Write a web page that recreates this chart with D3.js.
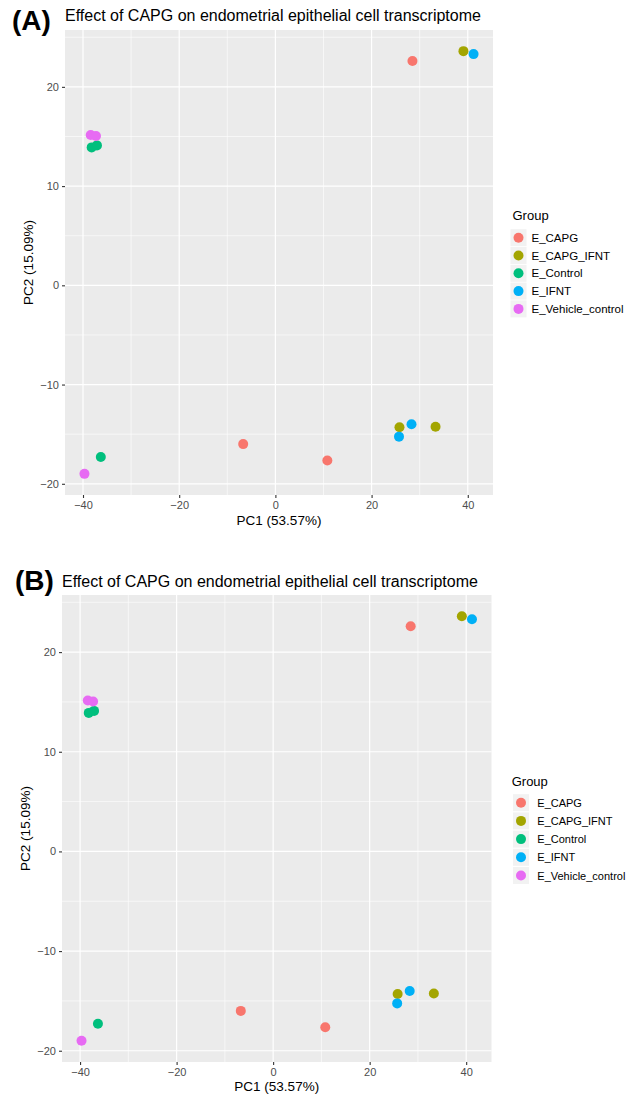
<!DOCTYPE html>
<html><head><meta charset="utf-8">
<script src="https://cdn.jsdelivr.net/npm/d3@7"></script>
<style>body{margin:0;background:#fff}svg{display:block}text{font-family:"Liberation Sans",Arial,sans-serif}</style>
</head><body>
<svg id="c" width="634" height="1097"></svg>
<script>
const groups = ["E_CAPG","E_CAPG_IFNT","E_Control","E_IFNT","E_Vehicle_control"];
const colors = ["#F8766D","#A3A500","#00BF7D","#00B0F6","#E76BF3"];
const pc1 = {
  E_CAPG: [28.5, -6.7, 10.8],
  E_CAPG_IFNT: [39.1, 25.8, 33.3],
  E_Control: [-38.2, -37.1, -36.3],
  E_IFNT: [41.2, 28.3, 25.7],
  E_Vehicle_control: [-38.4, -37.3, -39.7]
};
const pc2 = {
  E_CAPG: [22.6, -16.0, -17.65],
  E_CAPG_IFNT: [23.6, -14.3, -14.25],
  E_Control: [13.9, 14.1, -17.3],
  E_IFNT: [23.3, -14.0, -15.25],
  E_Vehicle_control: [15.15, 15.05, -19.0]
};
const xTicks = [-40,-20,0,20,40];
const yTicks = [-20,-10,0,10,20];
const xMinor = [-30,-10,10,30];
const yMinor = [-15,-5,5,15,25];
const title = "Effect of CAPG on endometrial epithelial cell transcriptome";
const xLabel = "PC1 (53.57%)";
const yLabel = "PC2 (15.09%)";
const panelLabels = ["(A)","(B)"];

const points = [];
groups.forEach((g,i)=>pc1[g].forEach((v,j)=>points.push({g, i, x:v, y:pc2[g][j]})));

const svg = d3.select("#c");
const fmt = d => (d<0 ? "\u2212"+Math.abs(d) : ""+d);

function expand(ext){const r=ext[1]-ext[0];return [ext[0]-0.05*r, ext[1]+0.05*r];}

function panel(cfg){
  const g = svg.append("g");
  const x = d3.scaleLinear().domain(expand(d3.extent(points,d=>d.x))).range([cfg.l, cfg.r]);
  const y = d3.scaleLinear().domain(expand(d3.extent(points,d=>d.y))).range([cfg.b, cfg.t]);
  g.append("rect").attr("x",cfg.l).attr("y",cfg.t).attr("width",cfg.r-cfg.l).attr("height",cfg.b-cfg.t).attr("fill","#EBEBEB");
  g.selectAll(".vx").data(xMinor).join("line").attr("x1",d=>x(d)).attr("x2",d=>x(d)).attr("y1",cfg.t).attr("y2",cfg.b).attr("stroke","#fff").attr("stroke-width",0.6);
  g.selectAll(".hy").data(yMinor).join("line").attr("y1",d=>y(d)).attr("y2",d=>y(d)).attr("x1",cfg.l).attr("x2",cfg.r).attr("stroke","#fff").attr("stroke-width",0.6);
  g.selectAll(".vX").data(xTicks).join("line").attr("x1",d=>x(d)).attr("x2",d=>x(d)).attr("y1",cfg.t).attr("y2",cfg.b).attr("stroke","#fff").attr("stroke-width",1.2);
  g.selectAll(".hY").data(yTicks).join("line").attr("y1",d=>y(d)).attr("y2",d=>y(d)).attr("x1",cfg.l).attr("x2",cfg.r).attr("stroke","#fff").attr("stroke-width",1.2);
  const xa = g.append("g").attr("transform",`translate(0,${cfg.b})`)
    .call(d3.axisBottom(x).tickValues(xTicks).tickFormat(fmt).tickSize(3).tickPadding(3));
  const ya = g.append("g").attr("transform",`translate(${cfg.l},0)`)
    .call(d3.axisLeft(y).tickValues(yTicks).tickFormat(fmt).tickSize(3).tickPadding(3));
  [xa,ya].forEach(a=>{a.select(".domain").remove();
    a.selectAll(".tick line").attr("stroke","#333").attr("stroke-width",1.1);
    a.selectAll(".tick text").attr("fill","#4D4D4D").style("font-size","11px").style("font-family","Liberation Sans, Arial, sans-serif");});
  g.selectAll(".pt").data(points).join("circle").attr("cx",d=>x(d.x)).attr("cy",d=>y(d.y)).attr("r",5).attr("fill",d=>colors[d.i]);
  g.append("text").attr("x",cfg.l).attr("y",cfg.titleY).style("font-size","16px").attr("fill","#000").text(title);
  g.append("text").attr("x",cfg.labX).attr("y",cfg.labY).style("font-size","28px").style("font-weight","bold").attr("fill","#000").text(cfg.label);
  g.append("text").attr("x",(cfg.l+cfg.r)/2).attr("y",cfg.xlabY).attr("text-anchor","middle").style("font-size","13.5px").text(xLabel);
  g.append("text").attr("transform",`translate(${cfg.ylabX},${(cfg.t+cfg.b)/2}) rotate(-90)`).attr("text-anchor","middle").style("font-size","13.5px").text(yLabel);
  const L = cfg.leg;
  g.append("text").attr("x",L.x).attr("y",L.y).style("font-size","13px").text("Group");
  groups.forEach((gr,i)=>{
    const cy = L.k0 + i*L.dy;
    g.append("rect").attr("x",L.kx-8).attr("y",cy-8.5).attr("width",16).attr("height",17).attr("fill","#F2F2F2");
    g.append("circle").attr("cx",L.kx).attr("cy",cy).attr("r",5).attr("fill",colors[i]);
    g.append("text").attr("x",L.tx).attr("y",cy+4).style("font-size",L.fs+"px").text(gr);
  });
}

panel({l:65,r:493,t:30,b:495,titleY:20.5,label:panelLabels[0],labX:12,labY:30,xlabY:525,ylabX:33,
  leg:{x:512.5,y:219.5,k0:237.7,dy:17.8,kx:518.5,tx:531.5,fs:11.5}});
panel({l:62,r:491.5,t:595,b:1062,titleY:586.5,label:panelLabels[1],labX:15,labY:590,xlabY:1091,ylabX:30,
  leg:{x:511.7,y:786,k0:802.7,dy:18.2,kx:521,tx:537.3,fs:11}});
</script>
</body></html>
